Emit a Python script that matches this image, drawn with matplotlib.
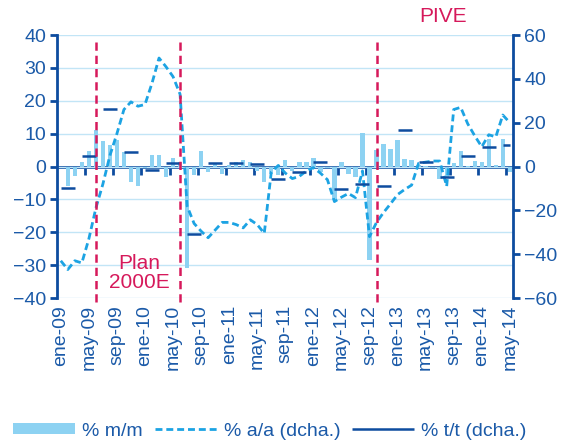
import numpy as np
import matplotlib
matplotlib.use("Agg")
import matplotlib.pyplot as plt

plt.rcParams['font.family'] = ['Liberation Sans', 'DejaVu Sans']
plt.rcParams['font.size'] = 14

# colours
c_bar = '#8DD2F2'
c_aa = '#1CA3E3'
c_tt = '#0D4C9F'
c_txt = '#1B5AA8'
c_red = '#D6195B'
c_grid = '#C2E5F6'

# x tick labels (every 4 months, ene-09 .. may-14)
tick_labels = ['ene-09', 'may-09', 'sep-09', 'ene-10', 'may-10', 'sep-10',
               'ene-11', 'may-11', 'sep-11', 'ene-12', 'may-12', 'sep-12',
               'ene-13', 'may-13', 'sep-13', 'ene-14', 'may-14']

# % m/m (left axis), monthly ene-09 .. may-14
mm = [np.nan, -5.8, -3.0, 1.5, 4.8, 11.0, 7.7, 6.6, 8.2, 4.4,
      -4.7, -6.0, -0.5, 3.5, 3.4, -3.3, 2.5, 1.5, -31.0, -2.7,
      4.8, -1.8, 0.8, -2.2, 0.5, 1.5, 2.0, 1.5, -1.5, -4.8,
      -2.2, -2.5, 2.1, -1.5, 1.5, 1.5, 2.5, -1.7, -0.5, -10.0,
      1.3, -2.2, -3.3, 10.3, -28.5, 5.0, 6.8, 5.3, 8.1, 2.4,
      1.9, 0.5, 0.3, -0.5, -3.7, -3.5, 1.0, 4.6, 0.2, 1.6,
      1.4, 8.4, 0.5, 8.4, -1.8]

# % a/a (right axis), monthly
aa = [-43, -47, -43, -44, -33, -19, -8, 5, 15, 26,
      29.5, 27.5, 28.3, 38, 49.5, 45.5, 41, 33, -18, -26,
      -29.5, -32.5, -29, -25.5, -25.5, -26.5, -28, -24.3, -26.5, -30.5,
      -2.5, 0.5, -3, -5.5, -4.5, -2, -0.5, -3, -6, -16,
      -14, -12.3, -14.2, -2, -32, -25.5, -21, -17, -12.8, -10.5,
      -8.5, 1.5, 2, 2.5, 2.5, -9, 26, 27, 19.5, 14,
      9, 14.5, 13.5, 23.5, 20]

# % t/t (right axis), quarterly 1T09 .. 2T14
tt = [-9.6, 4.6, 26.2, 6.8, -1.5, 1.6, -30.8, 1.8, 1.5, 1.1, -5.8,
      -2.3, 2.0, -10.3, -7.9, -8.7, 16.6, 2.0, -4.6, 5.0, 8.9, 9.9]

# events (month index)
events = [5, 17, 45]

n = len(mm)
x = np.arange(n)
q_start = np.arange(len(tt)) * 3
q_end = np.minimum(q_start + 2, n - 1)

fig = plt.figure(figsize=(5.74, 4.46), dpi=100)
ax = fig.add_axes([0.0998, 0.3318, 0.7945, 0.5897])
ax2 = ax.twinx()

bars = ax.bar(x, mm, width=0.62, color=c_bar, label='% m/m', zorder=2)
ax.set_xlim(-0.5, n - 0.5)
ax.set_ylim(-40, 40)
ax.set_yticks(np.arange(-40, 41, 10))
ax.yaxis.grid(True, color=c_grid, lw=1)
ax.set_axisbelow(True)

ax.set_xticks(np.arange(0, n, 4))
ax.set_xticklabels(tick_labels, rotation=90, color=c_txt)
ax.tick_params(axis='x', length=0, pad=5)
ax.tick_params(axis='y', colors=c_txt, direction='out', length=5, width=2, color=c_tt, pad=3)

# category axis drawn at zero (ticks sit on the top side, so 'in' points down)
sec = ax.secondary_xaxis(0.5)
sec.set_xticks(np.arange(3.5, n, 4))
sec.set_xticklabels([])
sec.tick_params(direction='in', length=6, width=2, color=c_tt)
for s in ['top', 'bottom']:
    sec.spines[s].set_color(c_tt)
    sec.spines[s].set_linewidth(2)

(l_aa,) = ax2.plot(x, aa, color=c_aa, lw=2.0, linestyle=(0, (2.5, 1.4)),
                   label='% a/a (dcha.)', zorder=3)
l_tt = ax2.hlines(tt, q_start, q_end, color=c_tt, lw=1.8, label='% t/t (dcha.)', zorder=4)
for e in events:
    ax2.axvline(e, ymin=-0.015, ymax=0.975, color=c_red, lw=1.8,
                linestyle=(0, (3.3, 2)), zorder=5, clip_on=False)
ax2.set_ylim(-60, 60)
ax2.set_yticks(np.arange(-60, 61, 20))
ax2.tick_params(axis='y', colors=c_txt, direction='out', length=5, width=2, color=c_tt, pad=3)

for s in ['top', 'bottom', 'right']:
    ax.spines[s].set_visible(False)
for s in ['top', 'bottom', 'left']:
    ax2.spines[s].set_visible(False)
ax.spines['left'].set_color(c_tt)
ax.spines['left'].set_linewidth(2)
ax2.spines['right'].set_color(c_tt)
ax2.spines['right'].set_linewidth(2)

ax.text(11.2, -32.5, 'Plan\n2000E', color=c_red, ha='center', va='center',
        fontsize=15, linespacing=1.0, zorder=6)
ax.text(54.5, 45.5, 'PIVE', color=c_red, ha='center', va='center',
        fontsize=15, clip_on=False)

leg = fig.legend([bars, l_aa, l_tt], ['% m/m', '% a/a (dcha.)', '% t/t (dcha.)'],
                 loc='lower center', bbox_to_anchor=(0.47, -0.025), ncol=3, frameon=False,
                 handlelength=3.2, handleheight=0.5, handletextpad=0.35, columnspacing=0.6)
for t in leg.get_texts():
    t.set_color(c_txt)

fig.savefig('out.png', dpi=100)
